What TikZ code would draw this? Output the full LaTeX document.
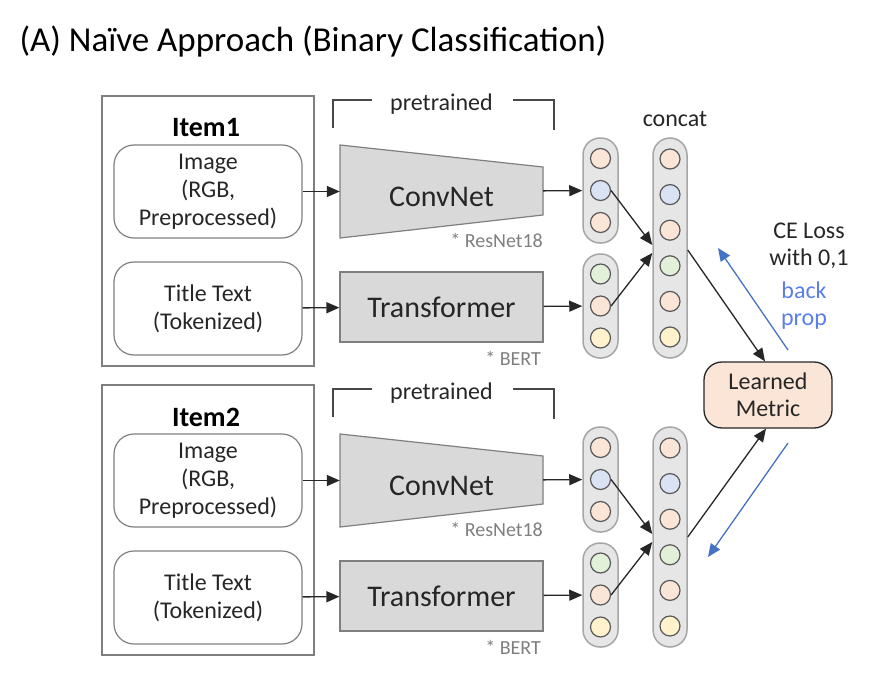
\documentclass[tikz,border=0pt]{standalone}
\usepackage{fontspec}
\setmainfont{Carlito}
\usetikzlibrary{arrows.meta}
\definecolor{ink}{HTML}{262626}
\definecolor{edge}{HTML}{7F7F7F}
\definecolor{pch}{HTML}{FBE5D6}
\definecolor{blu}{HTML}{DAE3F3}
\definecolor{grn}{HTML}{E2F0D9}
\definecolor{ylw}{HTML}{FFF2CC}
\definecolor{netgray}{HTML}{D9D9D9}
\definecolor{capgray}{HTML}{E7E6E6}
\definecolor{bparrow}{HTML}{4472C4}
\definecolor{bptext}{HTML}{5B7FE8}
\tikzset{ itembox/.style = { rectangle % item frame
        , draw = edge
        , line width = 1.3pt
        , minimum width = 212pt
        , minimum height = 270pt
        }
        , itemlbl/.style = { font = \fontsize{28}{32}\selectfont\bfseries % item name
        , text = black
        }
        , inbox/.style = { rectangle % input box
        , rounded corners = 20pt
        , draw = edge
        , line width = 1.2pt
        , minimum width = 188pt
        , minimum height = 93pt
        , align = center
        , inner sep = 0pt
        , font = \fontsize{24}{28}\selectfont
        , text = ink
        }
        , netshape/.style = { draw = edge % encoder body
        , fill = netgray
        , line width = 1.2pt
        }
        , nettxt/.style = { rectangle % encoder text
        , minimum width = 203pt
        , inner sep = 0pt
        , font = \fontsize{30}{34}\selectfont
        , text = ink
        }
        , note/.style = { font = \fontsize{20}{24}\selectfont % model name
        , text = edge
        , inner sep = 0pt
        }
        , pre/.style = { font = \fontsize{24}{28}\selectfont % bracket label
        , text = ink
        }
        , brk/.style = { draw = ink!85 % bracket
        , line width = 1.8pt
        }
        , capsule/.style = { rectangle % embedding vector
        , rounded corners = 17pt
        , draw = black!35
        , fill = capgray
        , line width = 1.5pt
        , minimum width = 35pt
        }
        , dot/.style = { circle % embedding unit
        , draw = black!65
        , line width = 1.2pt
        , minimum size = 20pt
        , inner sep = 0pt
        }
        , link/.style = { draw = ink % arrow
        , line width = 1.3pt
        , -{Triangle[length=13pt,width=11pt]}
        }
        , bp/.style = { draw = bparrow % back propagation
        , line width = 1.3pt
        , -{Triangle[length=13pt,width=11pt]}
        }
        , txt/.style = { font = \fontsize{24}{27}\selectfont % side text
        , align = center
        }
        }
\def\itemrow(#1)#2{% one item, shifted down by #1
\begin{scope}[shift={(0,#1)}]
    \node[itembox] (item#2) at (208,231) {};
    \node[itemlbl] (lbl#2) at (206,128) {Item#2};
    \node[inbox] (img#2) at (208,191.5) {Image\\(RGB,\\Preprocessed)};
    \node[inbox] (tok#2) at (208,308.5) {Title Text\\(Tokenized)};
    % pretrained bracket
    \node[pre] (pre#2) at (441.5,104) {pretrained};
    \draw[brk] (333,128) |- (372,100);
    \draw[brk] (513,100) -| (554,130);
    % encoders
    \draw[netshape] (340,145) -- (543,167) -- (543,215) -- (340,238) -- cycle;
    \node[nettxt, minimum height=93pt, text height=29pt, text depth=0pt] (cnn#2) at (441.5,191.5) {ConvNet};
    \node[nettxt, netshape, minimum height=70pt] (trf#2) at (441.5,307) {Transformer};
    \node[note, anchor=east] (rn#2) at (543,240) {* ResNet18};
    \node[note, anchor=east] (bert#2) at (541,358) {* BERT};
    % embeddings
    \node[capsule, minimum height=105pt] (colA#2) at (600.5,190.5) {};
    \node[capsule, minimum height=104pt] (colB#2) at (600.5,306) {};
    \node[capsule, minimum width=34pt, minimum height=220pt] (cat#2) at (670,248) {};
    \foreach[count=\n] \c in {pch,blu,pch} \node[dot, fill=\c] (a#2-\n) at (600.5,{158.5+32*(\n-1)}) {};
    \foreach[count=\n] \c in {grn,pch,ylw} \node[dot, fill=\c] (b#2-\n) at (600.5,{274+32*(\n-1)}) {};
    \foreach[count=\n] \c in {pch,blu,pch,grn,pch,ylw} \node[dot, fill=\c] (k#2-\n) at (670,{159+35.6*(\n-1)}) {};
    % arrows
    \draw[link] (img#2) -- (cnn#2);
    \draw[link] (tok#2) -- (trf#2);
    \draw[link] (cnn#2) -- (colA#2);
    \draw[link] (trf#2) -- (colB#2);
    \draw[link] (a#2-2.east) -- ([yshift=3pt]cat#2.west);
    \draw[link] (b#2-2.east) -- ([yshift=-5pt]cat#2.west);
\end{scope}}

\begin{document}
\begin{tikzpicture}[x=1pt, y=-1pt]
    \useasboundingbox (0,0) rectangle (872,698);
    \node[anchor=west, font=\fontsize{35}{39}\selectfont, text=black] (title) at (16,42) {(A) Naïve Approach (Binary Classification)};

    \itemrow(0){1}
    \itemrow(289){2}

    \node[txt, text=ink] (cc) at (675,119) {concat};
    \node[rectangle, rounded corners=18pt, draw=ink, line width=1.3pt, fill=pch, minimum width=128pt, minimum height=66pt, align=center, font=\fontsize{24}{27}\selectfont, text=ink] (lm) at (768,395) {Learned\\Metric};
    \node[txt, text=ink] (ce) at (809,246) {CE Loss\\with 0,1};
    \node[txt, text=bptext] (bpl) at (804,306) {back\\prop};

    \draw[link] ([yshift=-2pt]cat1.east) -- ([xshift=-3pt]lm.north);
    \draw[link] (cat2.east) -- ([xshift=-2pt]lm.south);

    \coordinate (u0) at (788,350);
    \coordinate (u1) at (718,248);
    \coordinate (d0) at (788,443);
    \coordinate (d1) at (708,557);
    \draw[bp] (u0) -- (u1);
    \draw[bp] (d0) -- (d1);
\end{tikzpicture}
\end{document}
